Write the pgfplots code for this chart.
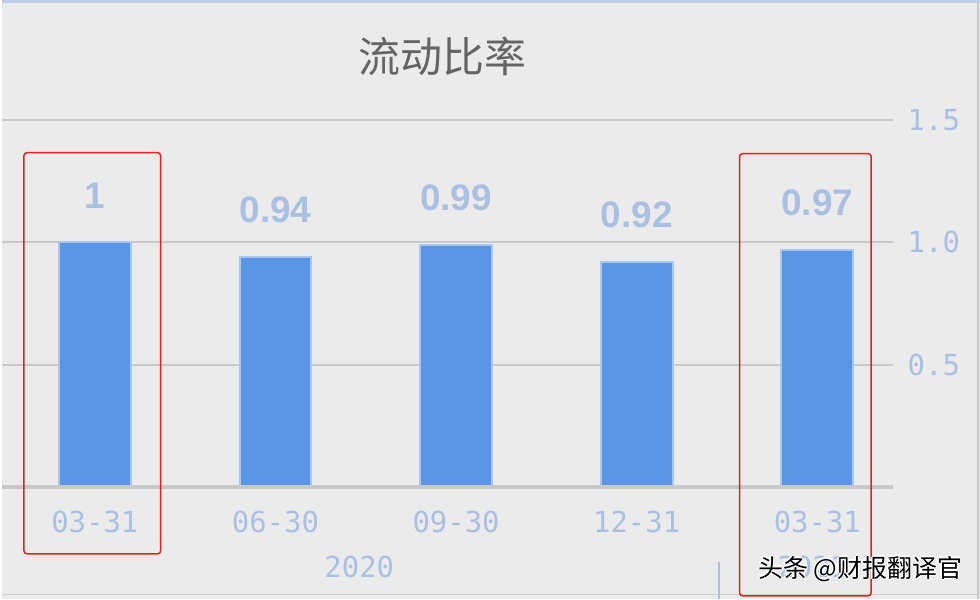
\documentclass[border=0pt]{standalone}
\usepackage{fontspec}
\usepackage{pgfplots}
\pgfplotsset{compat=1.18}
\newfontfamily\cjk{Noto Sans CJK SC}
\newfontfamily\mono{DejaVu Sans Mono}
\newfontfamily\lab{Liberation Sans}

\definecolor{bg}{RGB}{235,235,235}
\definecolor{barblue}{RGB}{91,150,230}
\definecolor{baredge}{RGB}{168,198,238}
\definecolor{lblue}{RGB}{170,192,226}
\definecolor{gridgray}{RGB}{200,200,200}
\definecolor{titlegray}{RGB}{100,100,100}
\definecolor{boxred}{RGB}{235,30,30}

\begin{document}
\begin{tikzpicture}[x=1pt,y=1pt]
% background and frame
\fill[bg] (0,0) rectangle (980,600);
\fill[lblue!70!bg] (0,597) rectangle (980,600);
\draw[gridgray, line width=1.5pt] (978,0) -- (978,597);
\draw[gridgray!80!bg, line width=1pt] (0,4) -- (978,4);

\begin{axis}[
    at={(0pt,112pt)}, anchor=south west,
    scale only axis,
    width=893pt, height=368pt,
    xmin=-0.514, xmax=4.42,
    ymin=0, ymax=1.5,
    axis line style={draw=none},
    tick style={draw=none},
    ybar, bar width=72pt,
    ymajorgrids,
    grid style={gridgray, line width=2pt},
    /pgf/number format/assume math mode=true,
    ytick={0.5,1,1.5},
    yticklabels={0.5,1.0,1.5},
    yticklabel pos=right,
    yticklabel style={font=\mono\fontsize{29}{29}\selectfont, text=lblue, xshift=11pt},
    xtick={0,1,2,3,4},
    xticklabels={03-31,06-30,09-30,12-31,03-31},
    xticklabel style={font=\mono\fontsize{29}{29}\selectfont, text=lblue, yshift=-16pt},
    nodes near coords,
    every node near coord/.append style={anchor=base, yshift=34pt, inner sep=0pt,
        font=\lab\bfseries\fontsize{37}{37}\selectfont, text=lblue},
    clip=false,
]
\addplot[fill=barblue, draw=baredge, line width=2pt] coordinates {
    (0,1) (1,0.94) (2,0.99) (3,0.92) (4,0.97)
};
\draw[gridgray, line width=4pt] (axis cs:-0.514,0) -- (axis cs:4.42,0);
\end{axis}

% title
\node[font=\cjk\fontsize{42}{42}\selectfont, text=titlegray] at (441,543) {流动比率};

% year labels
\node[font=\mono\fontsize{29}{29}\selectfont, text=lblue] at (358,32) {2020};
\node[font=\mono\fontsize{29}{29}\selectfont, text=lblue] at (812,32) {2021};
\draw[lblue, line width=2pt] (718,0) -- (718,37);

% red highlight boxes
\draw[boxred, line width=1.5pt, rounded corners=3pt] (22,45) rectangle (159,447);
\draw[boxred, line width=1.5pt, rounded corners=3pt] (739,3) rectangle (871,446);

% watermark
\foreach \dx/\dy in {-1.5/0,1.5/0,0/-1.5,0/1.5}
  \node[font=\cjk\fontsize{25}{25}\selectfont, text=white] at (860+\dx,30+\dy) {头条 @财报翻译官};
\node[font=\cjk\fontsize{25}{25}\selectfont, text=black] at (860,30) {头条 @财报翻译官};
\end{tikzpicture}
\end{document}
